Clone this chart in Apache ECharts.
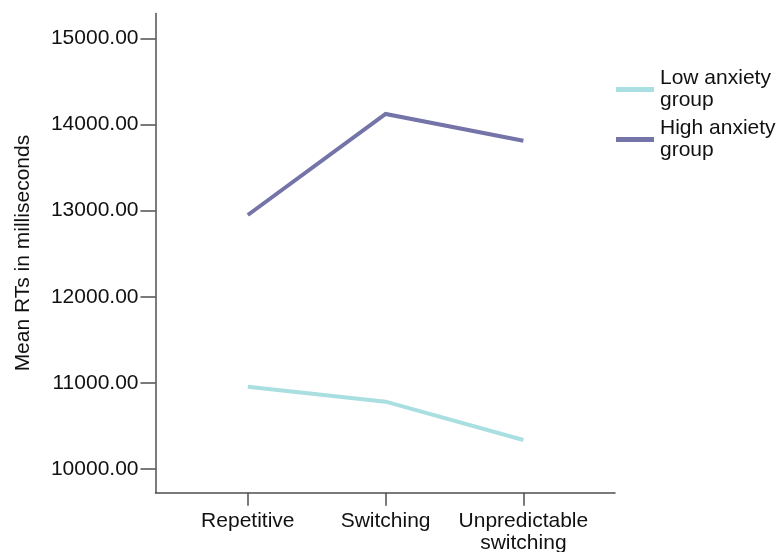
<!DOCTYPE html>
<html>
<head>
<meta charset="utf-8">
<title>Mean RTs by condition and anxiety group</title>
<script src="https://cdn.jsdelivr.net/npm/echarts@6/dist/echarts.min.js"></script>
<style>
  html, body { margin: 0; padding: 0; background: #fff; }
  #chart { width: 781px; height: 552px; }
</style>
</head>
<body>
<div id="chart"></div>
<script>
// Task conditions along the x axis
const conditions = ['Repetitive', 'Switching', 'Unpredictable\nswitching'];
// Mean reaction times (ms) per group
const lowAnxiety = [10956, 10782, 10337];
const highAnxiety = [12950, 14123, 13813];
// Y axis tick values
const yTicks = [10000, 11000, 12000, 13000, 14000, 15000];
const seriesNames = ['Low anxiety group', 'High anxiety group'];

const FONT = "'Liberation Sans', Arial, sans-serif";
const AXIS_COLOR = '#4f4f4f';
const TEXT_COLOR = '#111111';

const toPoints = vals => vals.map((v, i) => [i, v]);
const catIdx = conditions.map((_, i) => i);

const chart = echarts.init(document.getElementById('chart'), null, { renderer: 'canvas' });

chart.setOption({
  backgroundColor: '#ffffff',
  animation: false,
  textStyle: { fontFamily: FONT, color: TEXT_COLOR },
  grid: { left: 155.5, right: 166, top: 13.5, bottom: 59.3, containLabel: false, outerBoundsMode: 'none' },
  legend: {
    orient: 'vertical',
    left: 616,
    top: 64.5,
    padding: 0,
    itemGap: 0,
    itemWidth: 38,
    itemHeight: 5,
    icon: 'rect',
    data: seriesNames,
    formatter: name => name.replace(' group', '\ngroup'),
    textStyle: { fontFamily: FONT, fontSize: 21, lineHeight: 22, color: TEXT_COLOR, padding: [6, 0, 0, 1] }
  },
  xAxis: {
    type: 'value',
    min: -0.67,
    max: 2.665,
    splitLine: { show: false },
    axisLine: { onZero: false, lineStyle: { color: AXIS_COLOR, width: 1.5 } },
    axisTick: { customValues: catIdx, length: 13, lineStyle: { color: AXIS_COLOR, width: 1.5 } },
    axisLabel: {
      customValues: catIdx,
      formatter: v => conditions[Math.round(v)] || '',
      margin: 18,
      fontFamily: FONT,
      fontSize: 21,
      lineHeight: 22,
      color: TEXT_COLOR
    }
  },
  yAxis: {
    type: 'value',
    min: 9725,
    max: 15290,
    name: 'Mean RTs in milliseconds',
    nameLocation: 'middle',
    nameGap: 122,
    nameTextStyle: { fontFamily: FONT, fontSize: 21, color: TEXT_COLOR },
    splitLine: { show: false },
    axisLine: { show: true, onZero: false, lineStyle: { color: AXIS_COLOR, width: 1.5 } },
    axisTick: { show: true, customValues: yTicks, length: 15, lineStyle: { color: AXIS_COLOR, width: 1.5 } },
    axisLabel: {
      customValues: yTicks,
      formatter: v => v.toFixed(2),
      margin: 17,
      fontFamily: FONT,
      fontSize: 21,
      color: TEXT_COLOR
    }
  },
  series: [
    {
      name: seriesNames[0],
      type: 'line',
      data: toPoints(lowAnxiety),
      showSymbol: false,
      symbol: 'none',
      color: '#a9dfe0',
      lineStyle: { width: 4, color: '#a9dfe0', join: 'miter' }
    },
    {
      name: seriesNames[1],
      type: 'line',
      data: toPoints(highAnxiety),
      showSymbol: false,
      symbol: 'none',
      color: '#7474a9',
      lineStyle: { width: 4, color: '#7474a9', join: 'miter' }
    }
  ]
});
</script>
</body>
</html>
